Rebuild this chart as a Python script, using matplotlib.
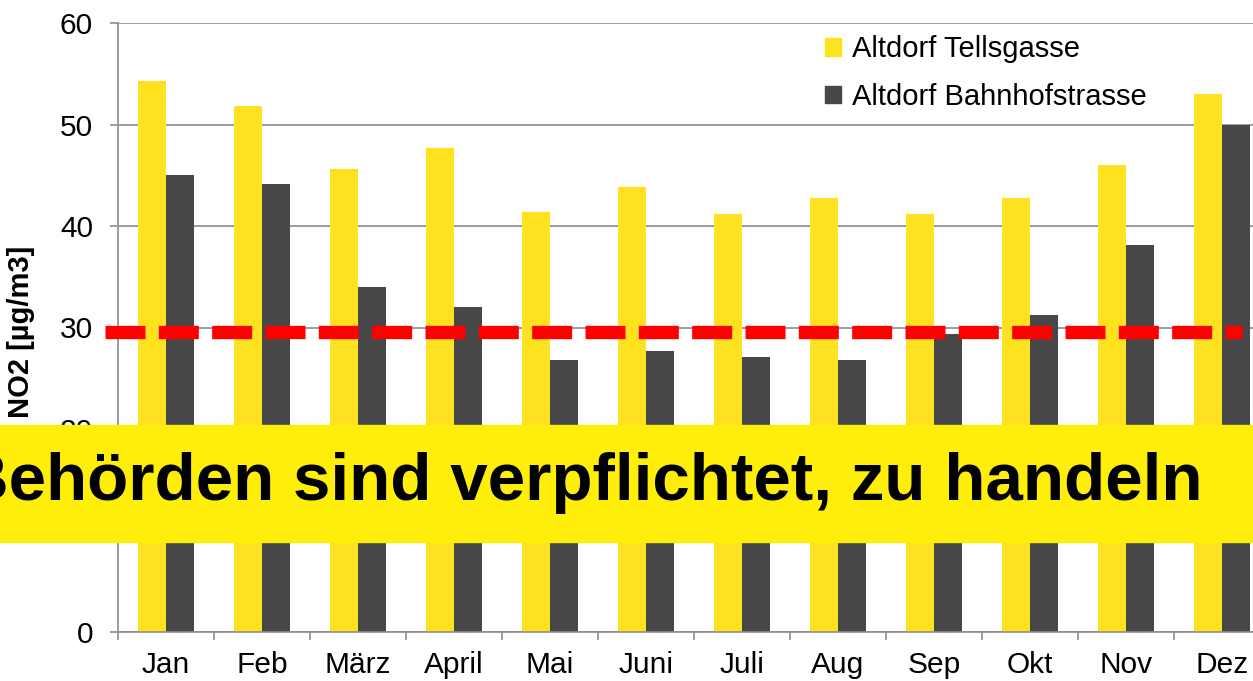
import matplotlib
matplotlib.use('Agg')
import matplotlib.pyplot as plt
from matplotlib.patches import Rectangle, Patch
import numpy as np

#Monthly NO2 means, Altdorf
months = ['Jan','Feb','März','April','Mai','Juni','Juli','Aug','Sep','Okt','Nov','Dez']
tellsgasse = [54.3,51.8,45.6,47.7,41.4,43.8,41.2,42.8,41.2,42.8,46.0,53.0]
bahnhofstrasse = [45.0,44.1,34.0,32.0,26.8,27.7,27.1,26.8,29.4,31.2,38.1,50.0]
limit_value = 29.6
banner_text = 'Behörden sind verpflichtet, zu handeln'

W,H = 1253,681
plt.rcParams['font.family'] = ['Liberation Sans','DejaVu Sans']
fs = 21.5

fig = plt.figure(figsize=(W/100,H/100),dpi=100)
ax = fig.add_axes([118/W,49/H,1152/W,609/H])

x = np.arange(len(months))
bw = 0.29
yellow = '#FFE21F'
dark = '#474747'
ax.bar(x-bw/2,tellsgasse,bw,color=yellow,zorder=2)
ax.bar(x+bw/2,bahnhofstrasse,bw,color=dark,zorder=2)

#limit line
ax.plot([-0.635,11.208],[limit_value,limit_value],color='#FF0000',lw=9.6,
        dashes=(3.0,1.0),solid_capstyle='butt',dash_capstyle='butt',clip_on=False,zorder=3)

ax.set_xlim(-0.5,11.5)
ax.set_ylim(0,60)
ax.set_yticks(range(0,61,10))
ax.yaxis.grid(True,color='#8c8c8c',lw=1.2,zorder=0)
ax.set_axisbelow(True)
ax.set_xticks(x)
ax.set_xticklabels(months)
ax.set_xticks(np.arange(-0.5,12,1),minor=True)
ax.tick_params(axis='x',which='major',length=0,pad=14,labelsize=fs)
ax.tick_params(axis='x',which='minor',length=6,width=1.2,color='#8c8c8c')
ax.tick_params(axis='y',length=6,width=1.2,color='#8c8c8c',pad=12,labelsize=fs)
for s in ['top','right']:
  ax.spines[s].set_visible(False)
for s in ['left','bottom']:
  ax.spines[s].set_color('#8c8c8c')
  ax.spines[s].set_linewidth(1.2)
ax.set_ylabel('NO2 [µg/m3]',fontsize=21,fontweight='bold')
ax.yaxis.set_label_coords(-0.072,0.492)

handles = [Patch(color=yellow),Patch(color=dark)]
ax.legend(handles,['Altdorf Tellsgasse','Altdorf Bahnhofstrasse'],loc='upper left',
          bbox_to_anchor=(825/W,1-35/H),bbox_transform=fig.transFigure,frameon=False,
          fontsize=21,handlelength=0.56,handleheight=0.56,handletextpad=0.38,
          labelspacing=0.68,borderpad=0,borderaxespad=0)

#banner
fig.patches.append(Rectangle((0,1-542/H),1,117/H,transform=fig.transFigure,
                             color='#FFEE0A',zorder=5))
fig.text(1202/W,1-500/H,banner_text,ha='right',va='baseline',fontsize=48.5,
         fontweight='bold',color='black',zorder=6)

fig.savefig('out.png',dpi=100)
